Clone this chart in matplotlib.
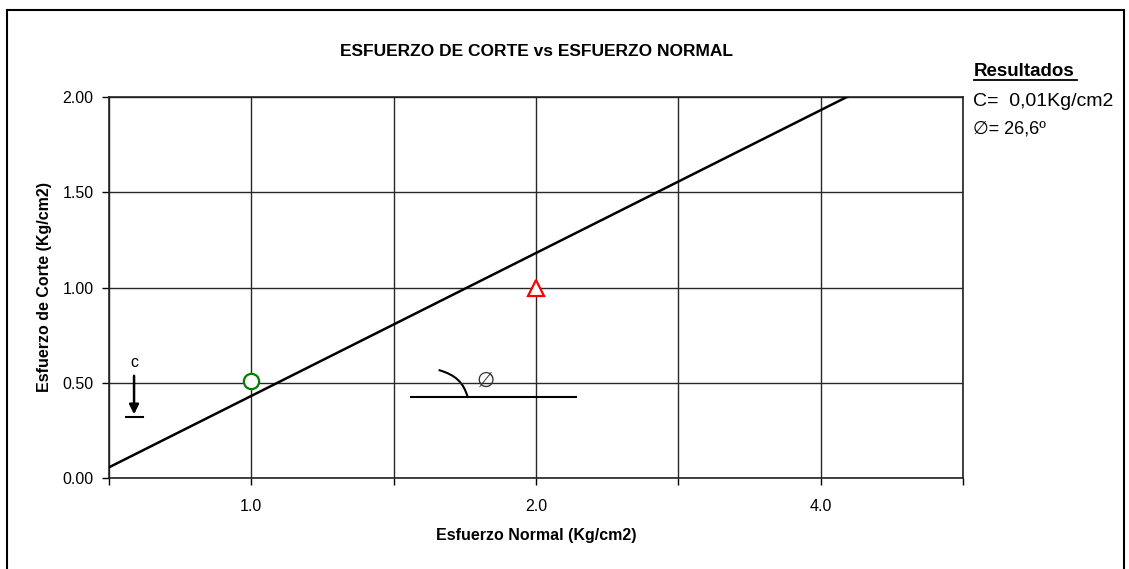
import matplotlib
matplotlib.use("Agg")
import matplotlib.pyplot as plt
from matplotlib.patches import Rectangle
from matplotlib.path import Path
from matplotlib.patches import PathPatch

plt.rcParams['font.family'] = ['Liberation Sans', 'DejaVu Sans']

# ---- data ----
title = "ESFUERZO DE CORTE vs ESFUERZO NORMAL"
xlabel = "Esfuerzo Normal (Kg/cm2)"
ylabel = "Esfuerzo de Corte (Kg/cm2)"
x_grid = [0.5, 1.0, 1.5, 2.0, 2.5, 3.0, 3.5]
x_grid_txt = ["", "1.0", "", "2.0", "", "4.0", ""]
y_ticks = [0.0, 0.5, 1.0, 1.5, 2.0]
y_tick_txt = ["0.00", "0.50", "1.00", "1.50", "2.00"]
env_x = [0.5, 3.5]
env_y = [0.056, 2.306]
pt1_x, pt1_y = [1.0], [0.51]
pt2_x, pt2_y = [2.0], [1.0]
res_title = "Resultados"
res_c = "C=  0,01Kg/cm2"
res_phi = "∅= 26,6º"

W, H = 1129, 569
fig = plt.figure(figsize=(W/100, H/100), dpi=100)
L, R, T, B = 109, 963, 97, 478
ax = fig.add_axes([L/W, 1 - B/H, (R-L)/W, (B-T)/H])

ax.set_xlim(0.5, 3.5)
ax.set_ylim(0.0, 2.0)
ax.set_xticks(x_grid)
ax.set_xticklabels(x_grid_txt)
ax.tick_params(axis='x', length=5, width=1, direction='out', pad=10, labelsize=11.5)
ax.set_yticks(y_ticks)
ax.set_yticklabels(y_tick_txt)
ax.tick_params(axis='y', length=5, width=1, direction='out', pad=6, labelsize=11.5)
ax.grid(True, which='major', color='#282828', linewidth=1)
for s in ax.spines.values():
    s.set_color('#222222')
    s.set_linewidth(1.2)

ax.plot(env_x, env_y, color='black', linewidth=1.8, clip_on=True, zorder=3)
ax.plot(pt1_x, pt1_y, linestyle='none', marker='o', markersize=11,
        markerfacecolor='white', markeredgecolor='#008000', markeredgewidth=1.6, zorder=4)
ax.plot(pt2_x, pt2_y, linestyle='none', marker='^', markersize=11,
        markerfacecolor='white', markeredgecolor='#ff0000', markeredgewidth=1.6, zorder=4)

ax.set_xlabel(xlabel, fontsize=11.5, fontweight='bold')
ax.xaxis.set_label_coords(0.5, -(528 - B) / (B - T))
ax.set_ylabel(ylabel, fontsize=11.5, fontweight='bold')
ax.yaxis.set_label_coords(-(L - 52) / (R - L), 0.5)

fig.text(536/W, 1 - 52/H, title, ha='center', va='center', fontsize=12.5, fontweight='bold')

# cohesion annotation
ax.annotate("", xy=(0.588, 0.32), xytext=(0.588, 0.551),
            arrowprops=dict(arrowstyle='-|>', color='black', lw=1.8, mutation_scale=14))
ax.plot([0.559, 0.618], [0.32, 0.32], color='black', lw=1.5)
ax.text(0.588, 0.604, "c", ha='center', va='center', fontsize=11.5)

# friction angle annotation
ax.plot([1.56, 2.142], [0.425, 0.425], color='black', lw=1.5)
verts = [(1.658, 0.567), (1.72, 0.54), (1.745, 0.5), (1.76, 0.425)]
ax.add_patch(PathPatch(Path(verts, [Path.MOVETO, Path.CURVE4, Path.CURVE4, Path.CURVE4]),
                       facecolor='none', edgecolor='black', lw=1.5))
ax.text(1.823, 0.509, "∅", ha='center', va='center', fontsize=15, color='#333333',
        family=['DejaVu Sans'])

# results
fig.text(974/W, 1 - 72/H, res_title, ha='left', va='center', fontsize=13.5,
         fontweight='bold')
fig.add_artist(plt.Line2D([974/W, 1077/W], [1 - 80/H, 1 - 80/H], color='black', lw=1.3))
fig.text(973/W, 1 - 102/H, res_c, ha='left', va='center', fontsize=14)
fig.text(973/W, 1 - 129/H, res_phi, ha='left', va='center', fontsize=13)

# outer border
fig.add_artist(Rectangle((7/W, -0.05), (1124-7)/W, 1.05 - 10/H, transform=fig.transFigure,
                         facecolor='none', edgecolor='black', lw=1.5))

fig.savefig("out.png", dpi=100)
